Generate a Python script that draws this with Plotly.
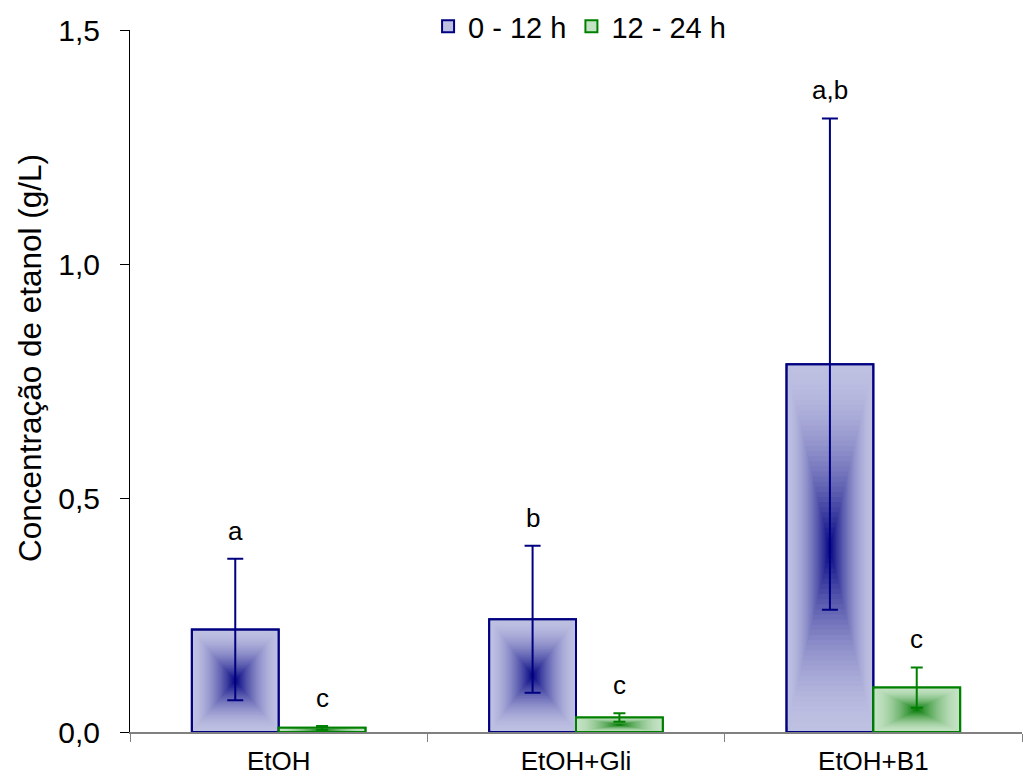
import plotly.graph_objects as go

# ---- data ----
categories = ["EtOH", "EtOH+Gli", "EtOH+B1"]
series_names = ["0 - 12 h", "12 - 24 h"]
mean_0_12 = [0.219, 0.241, 0.786]
err_0_12 = [0.151, 0.157, 0.525]
mean_12_24 = [0.009, 0.031, 0.095]
err_12_24 = [0.004, 0.009, 0.043]
letters_0_12 = ["a", "b", "a,b"]
letters_12_24 = ["c", "c", "c"]
y_ticks = [0.0, 0.5, 1.0, 1.5]
y_title = "Concentração de etanol (g/L)"

FONT = "Arial, Liberation Sans, sans-serif"
W = 0.292  # bar width in category units

styles = [
    dict(edge=(190, 192, 226), center=(0, 0, 128), line="#000080"),
    dict(edge=(196, 226, 196), center=(0, 120, 0), line="#008000"),
]
series = [(mean_0_12, err_0_12, letters_0_12, -W / 2),
          (mean_12_24, err_12_24, letters_12_24, W / 2)]

fig = go.Figure()
N = 36
for si, (vals, errs, letters, coff) in enumerate(series):
    st = styles[si]
    er = "rgb(%d,%d,%d)" % st["edge"]
    # base bar with legend
    fig.add_trace(go.Bar(
        x=categories, y=vals, width=[W] * 3, offset=[coff - W / 2] * 3,
        name=series_names[si], marker=dict(color=er, line=dict(color=st["line"], width=2)),
        showlegend=True, hoverinfo="skip"))
    # gradient layers (box gradient toward centre)
    for k in range(1, N):
        s = (N - k) / N
        t = (1 - s) ** 1.7
        col = tuple(int(round(st["edge"][c] + (st["center"][c] - st["edge"][c]) * t)) for c in range(3))
        fig.add_trace(go.Bar(
            x=categories, y=[v * s for v in vals], base=[v / 2 - v * s / 2 for v in vals],
            width=[W * s] * 3, offset=[coff - W * s / 2] * 3,
            marker=dict(color="rgb(%d,%d,%d)" % col, line=dict(width=0)),
            showlegend=False, hoverinfo="skip"))
    # outline + error bars on top
    fig.add_trace(go.Bar(
        x=categories, y=vals, width=[W] * 3, offset=[coff - W / 2] * 3,
        marker=dict(color="rgba(0,0,0,0)", line=dict(color=st["line"], width=2)),
        error_y=dict(type="data", array=errs, visible=True, color=st["line"],
                     thickness=2, width=8 if si == 0 else 6),
        showlegend=False, hoverinfo="skip"))
    for i, c in enumerate(categories):
        fig.add_annotation(x=i + coff, y=vals[i] + errs[i], xref="x", yref="y",
                           text=letters[i], showarrow=False, yanchor="middle", yshift=28,
                           font=dict(family=FONT, size=26, color="black"))

# y-axis title (as rotated annotation so it can sit slightly above centre)
fig.add_annotation(text=y_title, xref="paper", yref="paper", x=-0.112, y=0.533,
                   textangle=-90, showarrow=False, xanchor="center", yanchor="middle",
                   font=dict(family=FONT, size=31.5, color="black"))

fig.update_layout(
    width=1023, height=784,
    margin=dict(l=130, r=1, t=28, b=52),
    barmode="overlay",
    plot_bgcolor="white", paper_bgcolor="white",
    separators=",.",
    font=dict(family=FONT, color="black"),
    legend=dict(orientation="h", x=0.504, xanchor="center", y=1.005, yanchor="middle",
                font=dict(family=FONT, size=29, color="black"), bgcolor="rgba(0,0,0,0)",
                itemwidth=30, traceorder="normal"),
    showlegend=True,
)
fig.update_xaxes(type="category", showline=True, linecolor="#808080", linewidth=1.5,
                 ticks="outside", tickson="boundaries", ticklen=8, tickcolor="#808080",
                 tickfont=dict(family=FONT, size=26, color="black"), showgrid=False,
                 ticklabelstandoff=5, range=[-0.5, 2.5])
fig.update_yaxes(range=[0, 1.5], tickvals=y_ticks, tickformat=".1f", showline=True,
                 linecolor="black", linewidth=1, ticks="outside", ticklen=9, tickcolor="black",
                 tickfont=dict(family=FONT, size=30, color="black"), showgrid=False,
                 zeroline=False, ticklabelstandoff=14)

fig.write_html("out.html")
